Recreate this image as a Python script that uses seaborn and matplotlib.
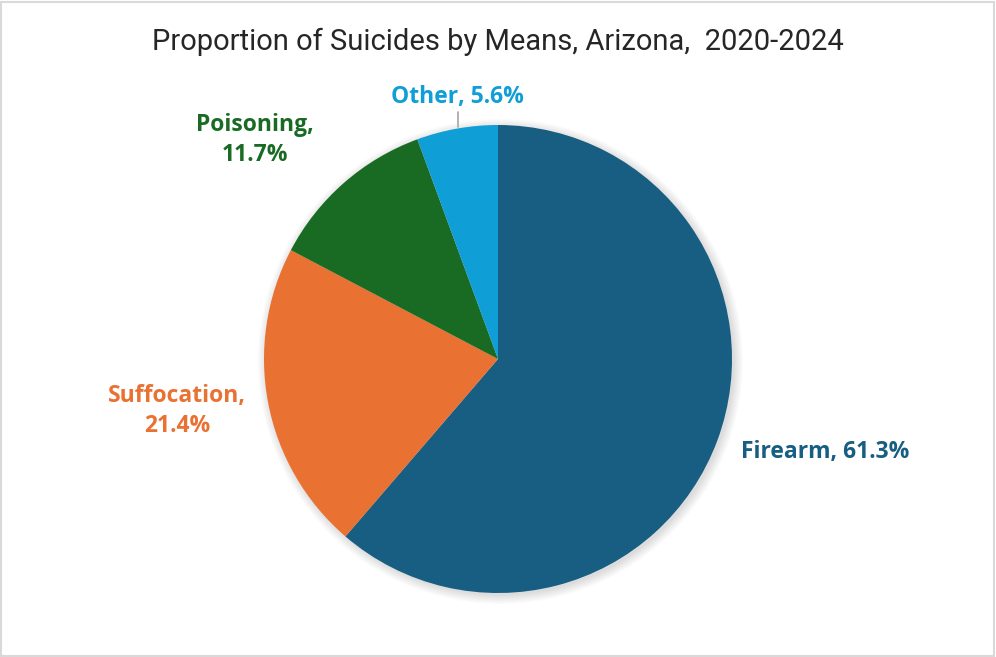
import numpy as np
import seaborn as sns
from matplotlib import pyplot as plt
from matplotlib.patches import Circle, Rectangle

# data
means = ['Firearm', 'Suffocation', 'Poisoning', 'Other']
shares = [61.3, 21.4, 11.7, 5.6]
colors = ['#175E82', '#E97132', '#196B24', '#0F9ED5']
title = 'Proportion of Suicides by Means, Arizona,  2020-2024'

sns.set_theme(style='white')
plt.rcParams['font.family'] = ['Roboto', 'DejaVu Sans']

fig = plt.figure(figsize=(9.96, 6.57), dpi=100)
W, H = 996, 657
cx, cy, r = 498, 359, 234
ax = fig.add_axes([(cx - r) / W, (H - cy - r) / H, 2 * r / W, 2 * r / H])

# soft shadow behind the pie
for k in range(7):
    ax.add_patch(Circle((0.01, -0.01), 1.0 + 0.006 * k, color='black',
                        alpha=0.02, lw=0, zorder=0, clip_on=False))

wedges, _ = ax.pie(shares, colors=colors, startangle=90, counterclock=False,
                   radius=1.0, wedgeprops=dict(linewidth=0))
for w in wedges:
    w.set_zorder(2)

# label positions (px offsets from pie centre)
label_pos = [(327, -93), (-321, -52), (-243, 219), (-41, 262)]
label_text = ['Firearm, 61.3%', 'Suffocation,\n21.4%', 'Poisoning,\n11.7%', 'Other, 5.6%']
for (dx, dy), txt, c in zip(label_pos, label_text, colors):
    ax.text(dx / r, dy / r, txt, ha='center', va='center', color=c,
            fontsize=16.5, fontweight='bold', family=['Open Sans', 'DejaVu Sans'],
            linespacing=1.3)

# leader line for Other
ax.plot([-40 / r, -40 / r], [247 / r, 232 / r], color='#A6A6A6', lw=1.2,
        zorder=3, clip_on=False)

ax.set_xlim(-1, 1)
ax.set_ylim(-1, 1)
ax.set_aspect('equal')
ax.axis('off')

fig.text(0.5, 1 - 42 / H, title, ha='center', va='center', fontsize=21,
         color='#262626')
fig.patches.append(Rectangle((0.001, 0.002), 0.997, 0.995, transform=fig.transFigure,
                             fill=False, edgecolor='#D9D9D9', lw=1.5))

fig.savefig('out.png', dpi=100)
